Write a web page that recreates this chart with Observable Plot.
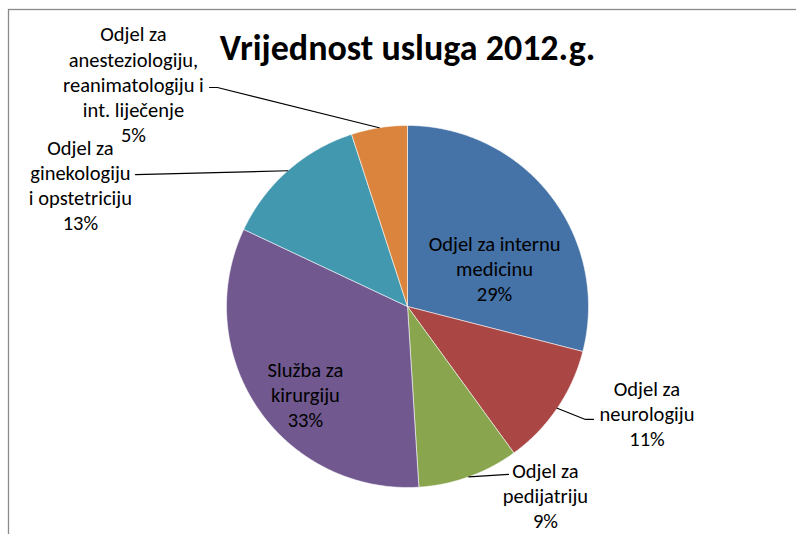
<!DOCTYPE html>
<html>
<head>
<meta charset="utf-8">
<script src="https://cdn.jsdelivr.net/npm/d3@7"></script>
<script src="https://cdn.jsdelivr.net/npm/@observablehq/plot@0.6"></script>
<style>
  html, body { margin: 0; padding: 0; background: #fff; overflow: hidden; }
  #chart { width: 796px; height: 534px; }
</style>
</head>
<body>
<div id="chart"></div>
<script>
// ---- data ----
const title = "Vrijednost usluga 2012.g.";
const categories = [
  "Odjel za internu medicinu",
  "Odjel za neurologiju",
  "Odjel za pedijatriju",
  "Služba za kirurgiju",
  "Odjel za ginekologiju i opstetriciju",
  "Odjel za anesteziologiju, reanimatologiju i int. liječenje"
];
const shares = [29, 11, 9, 33, 13, 5];
// label text as wrapped in the original
const labelText = [
  "Odjel za internu\nmedicinu",
  "Odjel za\nneurologiju",
  "Odjel za\npedijatriju",
  "Služba za\nkirurgiju",
  "Odjel za\nginekologiju\ni opstetriciju",
  "Odjel za\nanesteziologiju,\nreanimatologiju i\nint. liječenje"
];
const colors = ["#4572A7", "#AA4643", "#89A54E", "#71588F", "#4198AF", "#DB843D"];

// ---- layout (in pie-radius units, y up, origin = pie centre) ----
const W = 796, H = 534, CX = 407, CY = 306, R = 181;
const labelAt = [[0.481, 0.215], [1.323, -0.591], [0.762, -1.044], [-0.564, -0.481], [-1.807, 0.674], [-1.514, 1.232]];
const leaderTo = [null, [[0.983, -0.624], [1.028, -0.624]], [[0.558, -0.928]], null, [[-1.503, 0.729]], [[-1.050, 1.210], [-1.094, 1.210]]];

// ---- geometry from data ----
const arcs = d3.pie().sort(null).value(d => d)(shares);
const wedges = [];
arcs.forEach((a, i) => {
  const name = categories[i];
  wedges.push({name, x: 0, y: 0});
  const n = Math.max(2, Math.ceil((a.endAngle - a.startAngle) / (Math.PI / 360)));
  for (let k = 0; k <= n; k++) {
    const t = a.startAngle + (a.endAngle - a.startAngle) * k / n;
    wedges.push({name, x: Math.sin(t), y: Math.cos(t)});
  }
  wedges.push({name, x: 0, y: 0});
});

const labels = arcs.map((a, i) => ({
  text: labelText[i] + "\n" + shares[i] + "%",
  x: labelAt[i][0], y: labelAt[i][1]
}));

const leaders = [];
arcs.forEach((a, i) => {
  if (!leaderTo[i]) return;
  const m = (a.startAngle + a.endAngle) / 2;
  leaders.push({k: i, x: Math.sin(m), y: Math.cos(m)});
  leaderTo[i].forEach(p => leaders.push({k: i, x: p[0], y: p[1]}));
});

const chart = Plot.plot({
  width: W, height: H,
  margin: 0,
  style: {fontFamily: "Carlito, Calibri, Lato, sans-serif", background: "#fff", color: "#000"},
  x: {domain: [-CX / R, (W - CX) / R], axis: null},
  y: {domain: [-(H - CY) / R, CY / R], axis: null},
  color: {domain: categories, range: colors},
  marks: [
    Plot.frame({stroke: "#8a8a8a", strokeWidth: 1.3, insetLeft: 8, insetTop: 9, insetRight: -20, insetBottom: -20}),
    Plot.line(wedges, {x: "x", y: "y", z: "name", fill: "name", stroke: "#ffffff", strokeOpacity: 0.7, strokeWidth: 0.8, strokeLinejoin: "miter"}),
    Plot.line(leaders, {x: "x", y: "y", z: "k", stroke: "#000", strokeWidth: 1.2}),
    Plot.text(labels, {x: "x", y: "y", text: "text", fontSize: 20.5, lineHeight: 1.22, fill: "#000", textAnchor: "middle"}),
    Plot.text([title], {x: [0], frameAnchor: "top", lineAnchor: "top", dy: 34, text: d => d, fontSize: 36, fontWeight: "bold", fill: "#000"})
  ]
});
document.getElementById("chart").appendChild(chart);
</script>
</body>
</html>
